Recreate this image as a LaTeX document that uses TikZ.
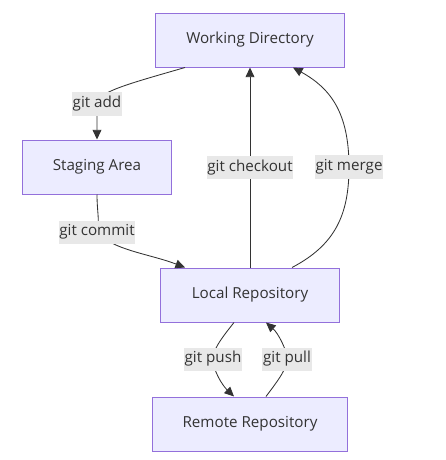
\documentclass[tikz,border=0pt]{standalone}
\usepackage{fontspec}
\setmainfont{Open Sans}
\usetikzlibrary{calc,arrows.meta}

\definecolor{boxfill}{HTML}{ECECFF}
\definecolor{boxline}{HTML}{9370DB}
\definecolor{ink}{HTML}{333333}
\definecolor{lblfill}{HTML}{E8E8E8}

\tikzset{
    area/.style={draw=boxline, fill=boxfill, line width=0.7pt, text=ink,
        minimum height=1.35cm, inner sep=0pt},
    lbl/.style={fill=lblfill, text=ink, inner xsep=0.5pt, inner ysep=0pt,
        minimum height=0.575cm},
    flow/.style={draw=ink, line width=0.6pt, -{Triangle[length=2.4mm,width=2.2mm]}}
}

\begin{document}
\begin{tikzpicture}[
    x=0.025cm, y=-0.025cm,
    font=\fontsize{10.8}{12}\selectfont
]
\useasboundingbox (0,0) rectangle (446,460);

% === Areas ===
\node[area, minimum width=4.7cm]   (wd) at (250,40)  {Working Directory};
\node[area, minimum width=3.725cm] (sa) at (97,167)  {Staging Area};
\node[area, minimum width=4.45cm]  (lr) at (250,295) {Local Repository};
\node[area, minimum width=4.85cm]  (rr) at (250,424) {Remote Repository};

% === Working Directory -> Staging Area ===
\draw[flow] ($(wd.south)+(-65,0)$) .. controls (128,84) and (97,92) .. (97,104)
    node[lbl] {git add} -- (sa.north);

% === Staging Area -> Local Repository ===
\draw[flow] (sa.south) .. controls (97,212) and (100,222) .. (97,232)
    node[lbl] {git commit} .. controls (112,250) and (150,254) .. ($(lr.north)+(-65,0)$);

% === Local Repository -> Working Directory ===
\draw[flow] (lr.north) -- node[lbl] {git checkout} (wd.south);
\draw[flow] ($(lr.north)+(42,0)$) .. controls (335,245) and (349,215) .. (349,167)
    node[lbl] {git merge} .. controls (349,112) and (330,88) .. ($(wd.south)+(43,0)$);

% === Local Repository <-> Remote Repository ===
\draw[flow] ($(lr.south)+(-16,0)$) .. controls (220,340) and (213,350) .. (213,359)
    node[lbl] {git push} .. controls (213,370) and (222,385) .. ($(rr.north)+(-16,0)$);
\draw[flow] ($(rr.north)+(16,0)$) .. controls (280,378) and (287,368) .. (287,359)
    node[lbl] {git pull} .. controls (287,350) and (278,333) .. ($(lr.south)+(16,0)$);

\end{tikzpicture}
\end{document}
